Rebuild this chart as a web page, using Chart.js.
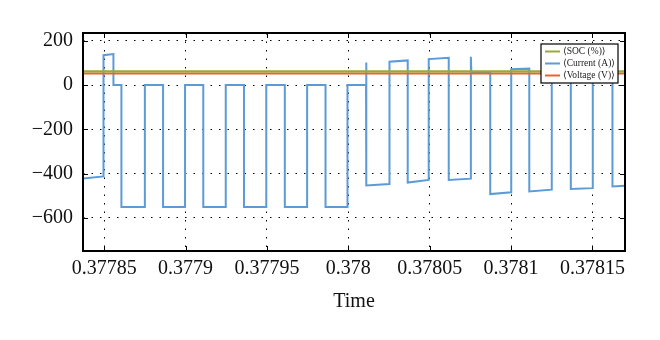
<!DOCTYPE html>
<html>
<head>
<meta charset="utf-8">
<script src="https://cdn.jsdelivr.net/npm/chart.js@4"></script>
<style>
  html, body { margin: 0; padding: 0; background: #fff; }
  #wrap { width: 660px; height: 340px; }
</style>
</head>
<body>
<div id="wrap"><canvas id="chart" width="660" height="340"></canvas></div>
<script>
// Time axis (s)
const xMin = 0.377837;
const xMax = 0.37817;
const xTicks = [0.37785, 0.3779, 0.37795, 0.378, 0.37805, 0.3781, 0.37815];
const yTicks = [-600, -400, -200, 0, 200];

// Current (A) waveform
const currentT = [
  0.377837, 0.3778496, 0.3778496, 0.3778557, 0.3778557, 0.3778606, 0.3778606,
  0.377875, 0.377875, 0.3778862, 0.3778862, 0.3778997, 0.3778997, 0.3779109,
  0.3779109, 0.3779247, 0.3779247, 0.3779359, 0.3779359, 0.3779496, 0.3779496,
  0.377961, 0.377961, 0.3779747, 0.3779747, 0.377986, 0.377986, 0.3779995,
  0.3779995, 0.3780109, 0.3780109, 0.3780112, 0.3780253, 0.3780253, 0.3780365,
  0.3780365, 0.3780494, 0.3780494, 0.3780617, 0.3780617, 0.3780753, 0.3780753,
  0.3780756, 0.3780872, 0.3780872, 0.3781001, 0.3781001, 0.3781112, 0.3781112,
  0.378125, 0.378125, 0.3781367, 0.3781367, 0.3781502, 0.3781502, 0.3781623,
  0.3781623, 0.37817
];
const currentA = [
  -423, -413, 135, 140, 0, 0, -551,
  -551, 0, 0, -551, -551, 0, 0,
  -551, -551, 0, 0, -551, -551, 0,
  0, -551, -551, 0, 0, -551, -551,
  0, 0, 102, -454, -447, 105, 111,
  -441, -429, 117, 123, -429, -423, 128,
  58, 56, -493, -485, 71, 74, -481,
  -473, 76, 79, -470, -466, 80, 83,
  -458, -455
];

// SOC (%) and Voltage (V) stay flat
const flatT = [xMin, xMax];
const socPct = [62, 62];
const voltageV = [52, 52];

const colSoc = '#9aa83c';
const colCurrent = '#5a9bd8';
const colVoltage = '#e8642c';

function pts(xs, ys) {
  return xs.map((x, i) => ({ x: x, y: ys[i] }));
}

const serif = "'Liberation Serif', 'DejaVu Serif', serif";

// frame, inner tick marks and legend box
const framePlugin = {
  id: 'frame',
  afterDatasetsDraw(chart) {
    const ctx = chart.ctx;
    const a = chart.chartArea;
    const xs = chart.scales.x, ys = chart.scales.y;
    ctx.save();
    ctx.strokeStyle = '#000';
    ctx.lineWidth = 1;
    ctx.beginPath();
    xTicks.forEach(v => {
      const px = Math.round(xs.getPixelForValue(v)) + 0.5;
      ctx.moveTo(px, a.bottom); ctx.lineTo(px, a.bottom - 5);
      ctx.moveTo(px, a.top); ctx.lineTo(px, a.top + 5);
    });
    yTicks.forEach(v => {
      const py = Math.round(ys.getPixelForValue(v)) + 0.5;
      ctx.moveTo(a.left, py); ctx.lineTo(a.left + 5, py);
      ctx.moveTo(a.right, py); ctx.lineTo(a.right - 5, py);
    });
    ctx.stroke();
    ctx.lineWidth = 2;
    ctx.strokeRect(a.left, a.top, a.right - a.left, a.bottom - a.top);

    // legend
    const bx = 541, by = 44, bw = 77, bh = 39;
    ctx.fillStyle = '#fff';
    ctx.fillRect(bx, by, bw, bh);
    ctx.lineWidth = 1.2;
    ctx.strokeRect(bx, by, bw, bh);
    const items = [
      ['\u27E8SOC (%)\u27E9', colSoc],
      ['\u27E8Current (A)\u27E9', colCurrent],
      ['\u27E8Voltage (V)\u27E9', colVoltage]
    ];
    ctx.font = "9.5px " + serif;
    ctx.textBaseline = 'middle';
    items.forEach((it, i) => {
      const y = by + 7.5 + i * 12;
      ctx.strokeStyle = it[1];
      ctx.lineWidth = 2;
      ctx.beginPath();
      ctx.moveTo(bx + 4, y); ctx.lineTo(bx + 19, y);
      ctx.stroke();
      ctx.fillStyle = '#222';
      ctx.fillText(it[0], bx + 22, y);
    });
    ctx.restore();
  }
};

new Chart(document.getElementById('chart'), {
  type: 'line',
  data: {
    datasets: [
      {
        label: '\u27E8SOC (%)\u27E9',
        data: pts(flatT, socPct),
        borderColor: colSoc,
        borderWidth: 2.2,
        order: 0
      },
      {
        label: '\u27E8Current (A)\u27E9',
        data: pts(currentT, currentA),
        borderColor: colCurrent,
        borderWidth: 2,
        order: 2
      },
      {
        label: '\u27E8Voltage (V)\u27E9',
        data: pts(flatT, voltageV),
        borderColor: colVoltage,
        borderWidth: 2.2,
        order: 1
      }
    ]
  },
  options: {
    responsive: false,
    animation: false,
    layout: { padding: { left: 0, right: 35, top: 33, bottom: 26 } },
    elements: { point: { radius: 0 }, line: { tension: 0 } },
    plugins: {
      legend: { display: false },
      tooltip: { enabled: false }
    },
    scales: {
      x: {
        type: 'linear',
        min: xMin,
        max: xMax,
        afterBuildTicks: s => { s.ticks = xTicks.map(v => ({ value: v })); },
        afterFit: s => { s.height = 63; },
        grid: { color: '#000', lineWidth: 1, drawTicks: false },
        border: { display: false, dash: [1.5, 7] },
        ticks: {
          color: '#111',
          padding: 6,
          maxRotation: 0,
          autoSkip: false,
          font: { family: serif, size: 20 },
          callback: v => String(parseFloat(v.toFixed(5)))
        },
        title: {
          display: true,
          text: 'Time',
          color: '#111',
          padding: { top: 6, bottom: 0 },
          font: { family: serif, size: 20 }
        }
      },
      y: {
        min: -750,
        max: 235,
        afterBuildTicks: s => { s.ticks = yTicks.map(v => ({ value: v })); },
        afterFit: s => { s.width = 83; },
        grid: { color: '#000', lineWidth: 1, drawTicks: false },
        border: { display: false, dash: [1.5, 7] },
        ticks: {
          color: '#111',
          padding: 10,
          font: { family: serif, size: 20 },
          callback: v => (v < 0 ? '\u2212' + Math.abs(v) : String(v))
        }
      }
    }
  },
  plugins: [framePlugin]
});
</script>
</body>
</html>
